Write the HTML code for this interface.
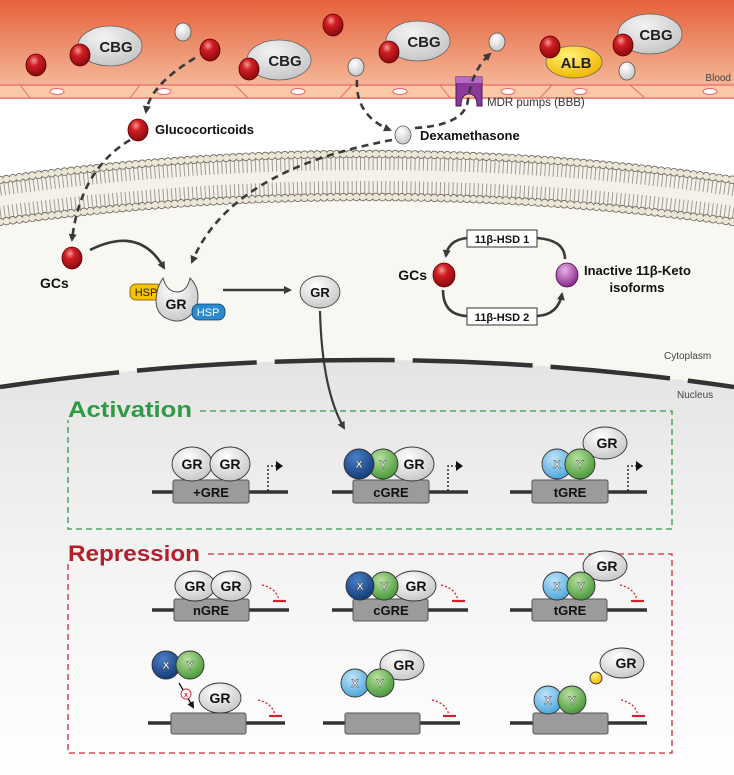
<!DOCTYPE html>
<html><head><meta charset="utf-8"><style>
html,body{margin:0;padding:0;background:#fff}
svg{display:block}
text{font-family:"Liberation Sans",sans-serif;font-weight:bold}
</style></head><body>
<svg width="734" height="775" viewBox="0 0 734 775" xmlns="http://www.w3.org/2000/svg">
<defs>
<linearGradient id="blood" x1="0" y1="0" x2="0" y2="1"><stop offset="0" stop-color="#e5613b"/><stop offset="1" stop-color="#f7c4a6"/></linearGradient>
<linearGradient id="nuc" x1="0" y1="0" x2="0" y2="1"><stop offset="0" stop-color="#e4e4e4"/><stop offset="0.5" stop-color="#f4f4f4"/><stop offset="1" stop-color="#ffffff"/></linearGradient>
<radialGradient id="red" cx="0.4" cy="0.3" r="0.7"><stop offset="0" stop-color="#f29a9a"/><stop offset="0.35" stop-color="#d11e24"/><stop offset="1" stop-color="#8a0a0e"/></radialGradient>
<radialGradient id="wht" cx="0.4" cy="0.3" r="0.7"><stop offset="0" stop-color="#ffffff"/><stop offset="1" stop-color="#c9c9c9"/></radialGradient>
<radialGradient id="grey" cx="0.4" cy="0.3" r="0.75"><stop offset="0" stop-color="#f4f4f4"/><stop offset="1" stop-color="#c4c4c4"/></radialGradient>
<radialGradient id="pur" cx="0.4" cy="0.3" r="0.7"><stop offset="0" stop-color="#e8b0e8"/><stop offset="1" stop-color="#8a2a8a"/></radialGradient>
<radialGradient id="dx" cx="0.4" cy="0.3" r="0.7"><stop offset="0" stop-color="#4a7fc8"/><stop offset="1" stop-color="#133d7a"/></radialGradient>
<radialGradient id="lx" cx="0.4" cy="0.3" r="0.7"><stop offset="0" stop-color="#bfe3f8"/><stop offset="1" stop-color="#4fa7dc"/></radialGradient>
<radialGradient id="gy" cx="0.4" cy="0.3" r="0.7"><stop offset="0" stop-color="#b8e0a0"/><stop offset="1" stop-color="#4a9a3a"/></radialGradient>
<radialGradient id="yel" cx="0.4" cy="0.3" r="0.7"><stop offset="0" stop-color="#fff27a"/><stop offset="1" stop-color="#f1b800"/></radialGradient>
<marker id="ah" markerWidth="8" markerHeight="8" refX="6" refY="4" orient="auto" markerUnits="userSpaceOnUse"><path d="M0,0 L8,4 L0,8 z" fill="#3a3a3a"/></marker>
<marker id="ahs" markerWidth="7" markerHeight="7" refX="5" refY="3.5" orient="auto" markerUnits="userSpaceOnUse"><path d="M0,0 L7,3.5 L0,7 z" fill="#111"/></marker>
</defs>

<!-- cytoplasm / nucleus backgrounds -->
<path d="M0,200 Q367,150 734,200 L734,775 L0,775 z" fill="#f9f7f2"/>
<path d="M0,387 Q367,333 734,387 L734,775 L0,775 z" fill="url(#nuc)"/>

<!-- blood -->
<rect x="0" y="0" width="734" height="99" fill="url(#blood)"/>
<rect x="0" y="85" width="734" height="13" fill="#f9c9a6"/>
<line x1="0" y1="85" x2="734" y2="85" stroke="#e9676a" stroke-width="1.3"/>
<line x1="0" y1="98" x2="734" y2="98" stroke="#e9676a" stroke-width="1.3"/>
<g stroke="#e9676a" stroke-width="1" fill="none">
<path d="M20,85 L30,98 M130,98 L140,85 M235,85 L248,98 M340,98 L352,85 M440,85 L450,98 M540,98 L552,85 M630,85 L645,98"/>
</g>
<g fill="#fff" stroke="#e9676a" stroke-width="1">
<ellipse cx="57" cy="91.5" rx="7" ry="3"/><ellipse cx="164" cy="91.5" rx="7" ry="3"/><ellipse cx="298" cy="91.5" rx="7" ry="3"/><ellipse cx="400" cy="91.5" rx="7" ry="3"/><ellipse cx="508" cy="91.5" rx="7" ry="3"/><ellipse cx="580" cy="91.5" rx="7" ry="3"/><ellipse cx="710" cy="91.5" rx="7" ry="3"/>
</g>
<text x="731" y="81" font-size="10" text-anchor="end" fill="#444" style="font-weight:normal">Blood</text>

<!-- blood contents -->
<g stroke="#666" stroke-width="0.8">
<ellipse cx="110" cy="46" rx="32" ry="20" fill="url(#grey)"/>
<ellipse cx="279" cy="60" rx="32" ry="20" fill="url(#grey)"/>
<ellipse cx="418" cy="41" rx="32" ry="20" fill="url(#grey)"/>
<ellipse cx="650" cy="34" rx="32" ry="20" fill="url(#grey)"/>
<ellipse cx="574" cy="62" rx="28" ry="16" fill="url(#yel)"/>
</g>
<g font-size="15" fill="#222" text-anchor="middle">
<text x="116" y="52">CBG</text><text x="285" y="66">CBG</text><text x="424" y="47">CBG</text><text x="656" y="40">CBG</text><text x="576" y="68">ALB</text>
</g>
<g stroke="#5a0000" stroke-width="0.8" fill="url(#red)">
<ellipse cx="36" cy="65" rx="10" ry="11"/><ellipse cx="80" cy="55" rx="10" ry="11"/><ellipse cx="210" cy="50" rx="10" ry="11"/><ellipse cx="333" cy="25" rx="10" ry="11"/><ellipse cx="249" cy="69" rx="10" ry="11"/><ellipse cx="389" cy="52" rx="10" ry="11"/><ellipse cx="550" cy="47" rx="10" ry="11"/><ellipse cx="623" cy="45" rx="10" ry="11"/>
<ellipse cx="138" cy="130" rx="10" ry="11"/>
</g>
<g stroke="#555" stroke-width="0.8" fill="url(#wht)">
<ellipse cx="183" cy="32" rx="8" ry="9"/><ellipse cx="356" cy="67" rx="8" ry="9"/><ellipse cx="497" cy="42" rx="8" ry="9"/><ellipse cx="627" cy="71" rx="8" ry="9"/><ellipse cx="403" cy="135" rx="8" ry="9"/>
</g>
<!-- MDR pump -->
<path d="M456,77 L482,77 L482,106 L477,106 Q477,94 469,94 Q461,94 461,106 L456,106 z" fill="#8b3a9a" stroke="#4a1a55" stroke-width="1"/>
<rect x="456" y="77" width="26" height="6" fill="#b56ac4"/>
<text x="487" y="106" font-size="11.5" fill="#333" style="font-weight:normal">MDR pumps (BBB)</text>
<text x="155" y="134" font-size="13" fill="#111">Glucocorticoids</text>
<text x="420" y="140" font-size="13" fill="#111">Dexamethasone</text>

<!-- membrane -->
<path d="M0,180 Q367,128 734,180 L734,222 Q367,172 0,222 z" fill="#f4f1ea"/>
<path d="M0,180 Q367,128 734,180" fill="none" stroke="#8a877d" stroke-width="14" stroke-dasharray="1 3.2" opacity="0.8" transform="translate(0,9)"/>
<path d="M0,222 Q367,172 734,222" fill="none" stroke="#8a877d" stroke-width="14" stroke-dasharray="1 3.2" opacity="0.8" transform="translate(0,-9)"/>
<path d="M0,180 Q367,128 734,180" fill="none" stroke="#6a675e" stroke-width="8.5" stroke-dasharray="0 6.5" stroke-linecap="round"/>
<path d="M0,180 Q367,128 734,180" fill="none" stroke="#ece6d6" stroke-width="6.8" stroke-dasharray="0 6.5" stroke-linecap="round"/>
<path d="M0,222 Q367,172 734,222" fill="none" stroke="#6a675e" stroke-width="8.5" stroke-dasharray="0 6.5" stroke-linecap="round"/>
<path d="M0,222 Q367,172 734,222" fill="none" stroke="#ece6d6" stroke-width="6.8" stroke-dasharray="0 6.5" stroke-linecap="round"/>

<!-- dashed arrows -->
<g fill="none" stroke="#3a3a3a" stroke-width="2.6" stroke-dasharray="7,5">
<path d="M195,58 Q150,85 146,112" marker-end="url(#ah)"/>
<path d="M130,140 Q80,170 72,240" marker-end="url(#ah)"/>
<path d="M357,80 Q355,115 390,130" marker-end="url(#ah)"/>
<path d="M392,140 Q230,170 192,262" marker-end="url(#ah)"/>
<path d="M415,128 Q465,125 468,100 Q472,70 490,54" marker-end="url(#ah)"/>
</g>

<!-- cytoplasm elements -->
<ellipse cx="72" cy="258" rx="10" ry="11" fill="url(#red)" stroke="#5a0000" stroke-width="0.8"/>
<text x="40" y="288" font-size="14" fill="#111">GCs</text>
<path d="M90,250 Q140,225 164,268" fill="none" stroke="#3a3a3a" stroke-width="2.6" marker-end="url(#ah)"/>
<rect x="130" y="284" width="32" height="16" rx="6" fill="#f8c200" stroke="#6a5200" stroke-width="0.8"/>
<path d="M163,278 Q167,292 177,292 Q187,292 190,278 Q202,290 196,308 Q188,322 175,321 Q157,318 156,302 Q156,288 163,278 z" fill="url(#wht)" stroke="#444" stroke-width="0.9"/>
<text x="176" y="309" font-size="14" text-anchor="middle" fill="#111">GR</text>
<text x="146" y="296" font-size="11" text-anchor="middle" fill="#222" style="font-weight:normal">HSP</text>
<rect x="192" y="304" width="33" height="16" rx="7" fill="#2a8ad0" stroke="#0d3d66" stroke-width="0.8"/>
<text x="208" y="316" font-size="11" text-anchor="middle" fill="#fff" style="font-weight:normal">HSP</text>
<line x1="223" y1="290" x2="290" y2="290" stroke="#3a3a3a" stroke-width="2.6" marker-end="url(#ah)"/>
<ellipse cx="320" cy="292" rx="20" ry="16" fill="url(#wht)" stroke="#444" stroke-width="0.9"/>
<text x="320" y="297" font-size="13" text-anchor="middle" fill="#111">GR</text>
<path d="M320,311 Q322,390 344,428" fill="none" stroke="#3a3a3a" stroke-width="2.2" marker-end="url(#ah)"/>

<!-- cycle -->
<text x="427" y="280" font-size="14" text-anchor="end" fill="#111">GCs</text>
<ellipse cx="444" cy="275" rx="11" ry="12" fill="url(#red)" stroke="#5a0000" stroke-width="0.8"/>
<ellipse cx="567" cy="275" rx="11" ry="12" fill="url(#pur)" stroke="#4a0a4a" stroke-width="0.8"/>
<text x="584" y="275" font-size="13" fill="#111">Inactive 11β-Keto</text>
<text x="637" y="292" font-size="13" text-anchor="middle" fill="#111">isoforms</text>
<g fill="none" stroke="#3a3a3a" stroke-width="2.6">
<path d="M537,238 Q565,240 565,259"/>
<path d="M467,238 Q448,240 446,256" marker-end="url(#ah)"/>
<path d="M443,290 Q443,315 467,316"/>
<path d="M537,316 Q558,315 562,294" marker-end="url(#ah)"/>
</g>
<rect x="467" y="230" width="70" height="17" fill="#fff" stroke="#333"/>
<text x="502" y="243" font-size="11" text-anchor="middle" fill="#111">11β-HSD 1</text>
<rect x="467" y="308" width="70" height="17" fill="#fff" stroke="#333"/>
<text x="502" y="321" font-size="11" text-anchor="middle" fill="#111">11β-HSD 2</text>

<text x="664" y="359" font-size="10" fill="#444" style="font-weight:normal">Cytoplasm</text>
<text x="677" y="398" font-size="10" fill="#444" style="font-weight:normal">Nucleus</text>

<!-- nuclear envelope -->
<path d="M0,387 Q367,333 734,387" fill="none" stroke="#333" stroke-width="4.5" stroke-dasharray="120,18"/>

<!-- boxes -->
<path d="M200,411 L672,411 L672,529 L68,529 L68,420" fill="none" stroke="#2e9a46" stroke-width="1.3" stroke-dasharray="6,4"/>
<text x="68" y="417" font-size="22" fill="#2e9a46" textLength="124" lengthAdjust="spacingAndGlyphs">Activation</text>
<path d="M208,554 L672,554 L672,753 L68,753 L68,564" fill="none" stroke="#cc2a36" stroke-width="1.3" stroke-dasharray="6,4"/>
<text x="68" y="561" font-size="22" fill="#b51e2b" textLength="132" lengthAdjust="spacingAndGlyphs">Repression</text>

<!-- DNA lines + boxes -->
<g stroke="#333" stroke-width="3.5">
<line x1="152" y1="492" x2="288" y2="492"/><line x1="332" y1="492" x2="468" y2="492"/><line x1="510" y1="492" x2="647" y2="492"/>
<line x1="152" y1="610" x2="289" y2="610"/><line x1="332" y1="610" x2="468" y2="610"/><line x1="510" y1="610" x2="647" y2="610"/>
<line x1="148" y1="723" x2="285" y2="723"/><line x1="323" y1="723" x2="460" y2="723"/><line x1="510" y1="723" x2="647" y2="723"/>
</g>
<g fill="#9b9b9b" stroke="#555" stroke-width="1">
<rect x="173" y="480" width="76" height="23" rx="2"/><rect x="353" y="480" width="76" height="23" rx="2"/><rect x="532" y="480" width="76" height="23" rx="2"/>
<rect x="174" y="599" width="75" height="22" rx="2"/><rect x="353" y="599" width="75" height="22" rx="2"/><rect x="532" y="599" width="75" height="22" rx="2"/>
<rect x="171" y="713" width="75" height="21" rx="2"/><rect x="345" y="713" width="75" height="21" rx="2"/><rect x="533" y="713" width="75" height="21" rx="2"/>
</g>
<g font-size="13" fill="#111" text-anchor="middle">
<text x="211" y="497">+GRE</text><text x="391" y="497">cGRE</text><text x="570" y="497">tGRE</text>
<text x="211" y="615">nGRE</text><text x="391" y="615">cGRE</text><text x="570" y="615">tGRE</text>
</g>

<!-- promoter arrows -->
<g fill="none" stroke="#111" stroke-width="1.3" stroke-dasharray="2,2">
<path d="M268,491 L268,466 L276,466"/><path d="M448,491 L448,466 L456,466"/><path d="M628,491 L628,466 L636,466"/>
</g>
<g fill="#111"><path d="M276,461 L283,466 L276,471z"/><path d="M456,461 L463,466 L456,471z"/><path d="M636,461 L643,466 L636,471z"/></g>

<!-- repression T bars -->
<g fill="none" stroke="#d2232a" stroke-width="1.3">
<path d="M262,585 Q276,588 279,600" stroke-dasharray="2,2"/><path d="M441,585 Q455,588 458,600" stroke-dasharray="2,2"/><path d="M620,585 Q634,588 637,600" stroke-dasharray="2,2"/>
<path d="M258,700 Q272,703 275,715" stroke-dasharray="2,2"/><path d="M432,700 Q446,703 449,715" stroke-dasharray="2,2"/><path d="M621,700 Q635,703 638,715" stroke-dasharray="2,2"/>
</g>
<g stroke="#d2232a" stroke-width="2.2">
<line x1="273" y1="601" x2="286" y2="601"/><line x1="452" y1="601" x2="465" y2="601"/><line x1="631" y1="601" x2="644" y2="601"/>
<line x1="269" y1="716" x2="282" y2="716"/><line x1="443" y1="716" x2="456" y2="716"/><line x1="632" y1="716" x2="645" y2="716"/>
</g>

<!-- proteins -->
<g stroke="#333" stroke-width="0.9">
<ellipse cx="192" cy="464" rx="20" ry="17" fill="url(#wht)"/><ellipse cx="230" cy="464" rx="20" ry="17" fill="url(#wht)"/>
<ellipse cx="412" cy="464" rx="22" ry="17" fill="url(#wht)"/><circle cx="383" cy="464" r="15" fill="url(#gy)"/><circle cx="359" cy="464" r="15" fill="url(#dx)"/>
<ellipse cx="605" cy="443" rx="22" ry="16" fill="url(#wht)"/><circle cx="557" cy="464" r="15" fill="url(#lx)"/><circle cx="580" cy="464" r="15" fill="url(#gy)"/>
<ellipse cx="195" cy="586" rx="20" ry="15" fill="url(#wht)"/><ellipse cx="231" cy="586" rx="20" ry="15" fill="url(#wht)"/>
<ellipse cx="414" cy="586" rx="22" ry="15" fill="url(#wht)"/><circle cx="384" cy="586" r="14" fill="url(#gy)"/><circle cx="360" cy="586" r="14" fill="url(#dx)"/>
<ellipse cx="605" cy="566" rx="22" ry="15" fill="url(#wht)"/><circle cx="557" cy="586" r="14" fill="url(#lx)"/><circle cx="581" cy="586" r="14" fill="url(#gy)"/>
<circle cx="166" cy="665" r="14" fill="url(#dx)"/><circle cx="190" cy="665" r="14" fill="url(#gy)"/>
<ellipse cx="220" cy="698" rx="21" ry="15" fill="url(#wht)"/>
<ellipse cx="402" cy="665" rx="22" ry="15" fill="url(#wht)"/><circle cx="355" cy="683" r="14" fill="url(#lx)"/><circle cx="380" cy="683" r="14" fill="url(#gy)"/>
<ellipse cx="622" cy="663" rx="22" ry="15" fill="url(#wht)"/><circle cx="596" cy="678" r="6" fill="url(#yel)"/>
<circle cx="548" cy="700" r="14" fill="url(#lx)"/><circle cx="572" cy="700" r="14" fill="url(#gy)"/>
</g>
<g font-size="14" fill="#111" text-anchor="middle">
<text x="192" y="469">GR</text><text x="230" y="469">GR</text><text x="414" y="469">GR</text><text x="607" y="448">GR</text>
<text x="195" y="591">GR</text><text x="231" y="591">GR</text><text x="416" y="591">GR</text><text x="607" y="571">GR</text>
<text x="220" y="703">GR</text><text x="404" y="670">GR</text><text x="626" y="668">GR</text>
</g>
<g font-size="11" fill="#fff" text-anchor="middle" stroke="#333" stroke-width="0.4" style="font-weight:normal">
<text x="359" y="468">X</text><text x="383" y="468">Y</text><text x="557" y="468">X</text><text x="580" y="468">Y</text>
<text x="360" y="590">X</text><text x="384" y="590">Y</text><text x="557" y="590">X</text><text x="581" y="590">Y</text>
<text x="166" y="669">X</text><text x="190" y="669">Y</text><text x="355" y="687">X</text><text x="380" y="687">Y</text><text x="548" y="704">X</text><text x="572" y="704">Y</text>
</g>
<line x1="179" y1="683" x2="193" y2="707" stroke="#111" stroke-width="1.3" marker-end="url(#ahs)"/>
<circle cx="186" cy="694" r="5" fill="#fff" stroke="#d2232a" stroke-width="0.9"/>
<text x="186" y="697" font-size="7" text-anchor="middle" fill="#d2232a">x</text>
</svg>
</body></html>
